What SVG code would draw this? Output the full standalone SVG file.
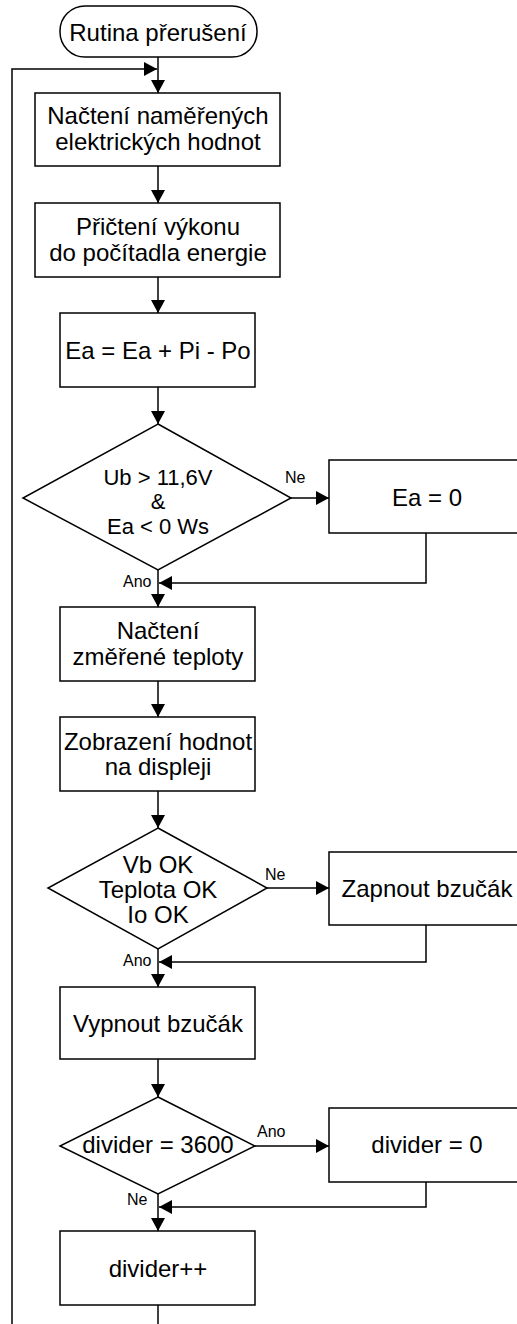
<svg xmlns="http://www.w3.org/2000/svg" width="517" height="1324" viewBox="0 0 517 1324">
<style>
.n{fill:#fff;stroke:#000;stroke-width:1.5}
.t{font-family:"Liberation Sans",Arial,sans-serif;font-size:24px;fill:#000;text-anchor:middle}
.d{font-size:22px}
.l{font-family:"Liberation Sans",Arial,sans-serif;font-size:16px;fill:#000}
.c{fill:none;stroke:#000;stroke-width:1.5}
</style>
<defs>
<marker id="ah" markerUnits="userSpaceOnUse" markerWidth="13" markerHeight="14" refX="13" refY="7" orient="auto">
<path d="M0,0 L13,7 L0,14 z" fill="#000"/>
</marker>
</defs>
<rect width="517" height="1324" fill="#fff"/>
<g id="connectors">
<path class="c" d="M158,57 V93" marker-end="url(#ah)"/>
<path class="c" d="M12,1324 V69 H157" marker-end="url(#ah)"/>
<path class="c" d="M158,166 V203" marker-end="url(#ah)"/>
<path class="c" d="M158,277 V313" marker-end="url(#ah)"/>
<path class="c" d="M158,387 V424" marker-end="url(#ah)"/>
<path class="c" d="M291,498 H329" marker-end="url(#ah)"/>
<path class="c" d="M426,533 V583 H159" marker-end="url(#ah)"/>
<path class="c" d="M158,570 V607" marker-end="url(#ah)"/>
<path class="c" d="M158,681 V717" marker-end="url(#ah)"/>
<path class="c" d="M158,791 V828" marker-end="url(#ah)"/>
<path class="c" d="M267,888 H329" marker-end="url(#ah)"/>
<path class="c" d="M426,925 V962 H159" marker-end="url(#ah)"/>
<path class="c" d="M158,949 V987" marker-end="url(#ah)"/>
<path class="c" d="M158,1059 V1097" marker-end="url(#ah)"/>
<path class="c" d="M255,1146 H329" marker-end="url(#ah)"/>
<path class="c" d="M426,1182 V1207 H159" marker-end="url(#ah)"/>
<path class="c" d="M158,1194 V1231" marker-end="url(#ah)"/>
<path class="c" d="M158,1305 V1324"/>
<text class="l" x="285" y="483">Ne</text>
<text class="l" x="123" y="587">Ano</text>
<text class="l" x="265" y="880">Ne</text>
<text class="l" x="123" y="966">Ano</text>
<text class="l" x="257" y="1137">Ano</text>
<text class="l" x="127" y="1205">Ne</text>
</g>
<g id="start">
<rect class="n" x="60" y="6" width="197" height="51" rx="25" ry="25"/>
<text class="t" x="158" y="41">Rutina přerušení</text>
</g>
<g id="box1">
<rect class="n" x="35" y="93" width="245" height="73"/>
<text class="t" x="158" y="124">Načtení naměřených</text>
<text class="t" x="158" y="150">elektrických hodnot</text>
</g>
<g id="box2">
<rect class="n" x="35" y="203" width="245" height="74"/>
<text class="t" x="158" y="235">Přičtení výkonu</text>
<text class="t" x="158" y="261">do počítadla energie</text>
</g>
<g id="box3">
<rect class="n" x="60" y="313" width="195" height="74"/>
<text class="t" x="158" y="359">Ea = Ea + Pi - Po</text>
</g>
<g id="dec1">
<polygon class="n" points="158,424 291,498 158,570 23,498"/>
<text class="t d" x="158" y="484.5">Ub &gt; 11,6V</text>
<text class="t d" x="158" y="509">&amp;</text>
<text class="t d" x="158" y="533.6">Ea &lt; 0 Ws</text>
</g>
<g id="ea0">
<rect class="n" x="329" y="460" width="195" height="73"/>
<text class="t" x="427" y="506">Ea = 0</text>
</g>
<g id="box4">
<rect class="n" x="60" y="607" width="195" height="74"/>
<text class="t" x="158" y="639">Načtení</text>
<text class="t" x="158" y="665">změřené teploty</text>
</g>
<g id="box5">
<rect class="n" x="60" y="717" width="195" height="74"/>
<text class="t" x="158" y="750">Zobrazení hodnot</text>
<text class="t" x="158" y="775">na displeji</text>
</g>
<g id="dec2">
<polygon class="n" points="158,828 267,888 158,949 48,888"/>
<text class="t" x="158" y="873">Vb OK</text>
<text class="t" x="158" y="898">Teplota OK</text>
<text class="t" x="158" y="923">Io OK</text>
</g>
<g id="buzzon">
<rect class="n" x="329" y="852" width="195" height="73"/>
<text class="t" x="427" y="897">Zapnout bzučák</text>
</g>
<g id="buzzoff">
<rect class="n" x="60" y="987" width="195" height="72"/>
<text class="t" x="158" y="1032">Vypnout bzučák</text>
</g>
<g id="dec3">
<polygon class="n" points="158,1097 255,1146 158,1194 60,1146"/>
<text class="t" x="158" y="1153">divider = 3600</text>
</g>
<g id="div0">
<rect class="n" x="329" y="1108" width="195" height="74"/>
<text class="t" x="427" y="1153">divider = 0</text>
</g>
<g id="divinc">
<rect class="n" x="60" y="1231" width="195" height="74"/>
<text class="t" x="158" y="1277">divider++</text>
</g>
</svg>
